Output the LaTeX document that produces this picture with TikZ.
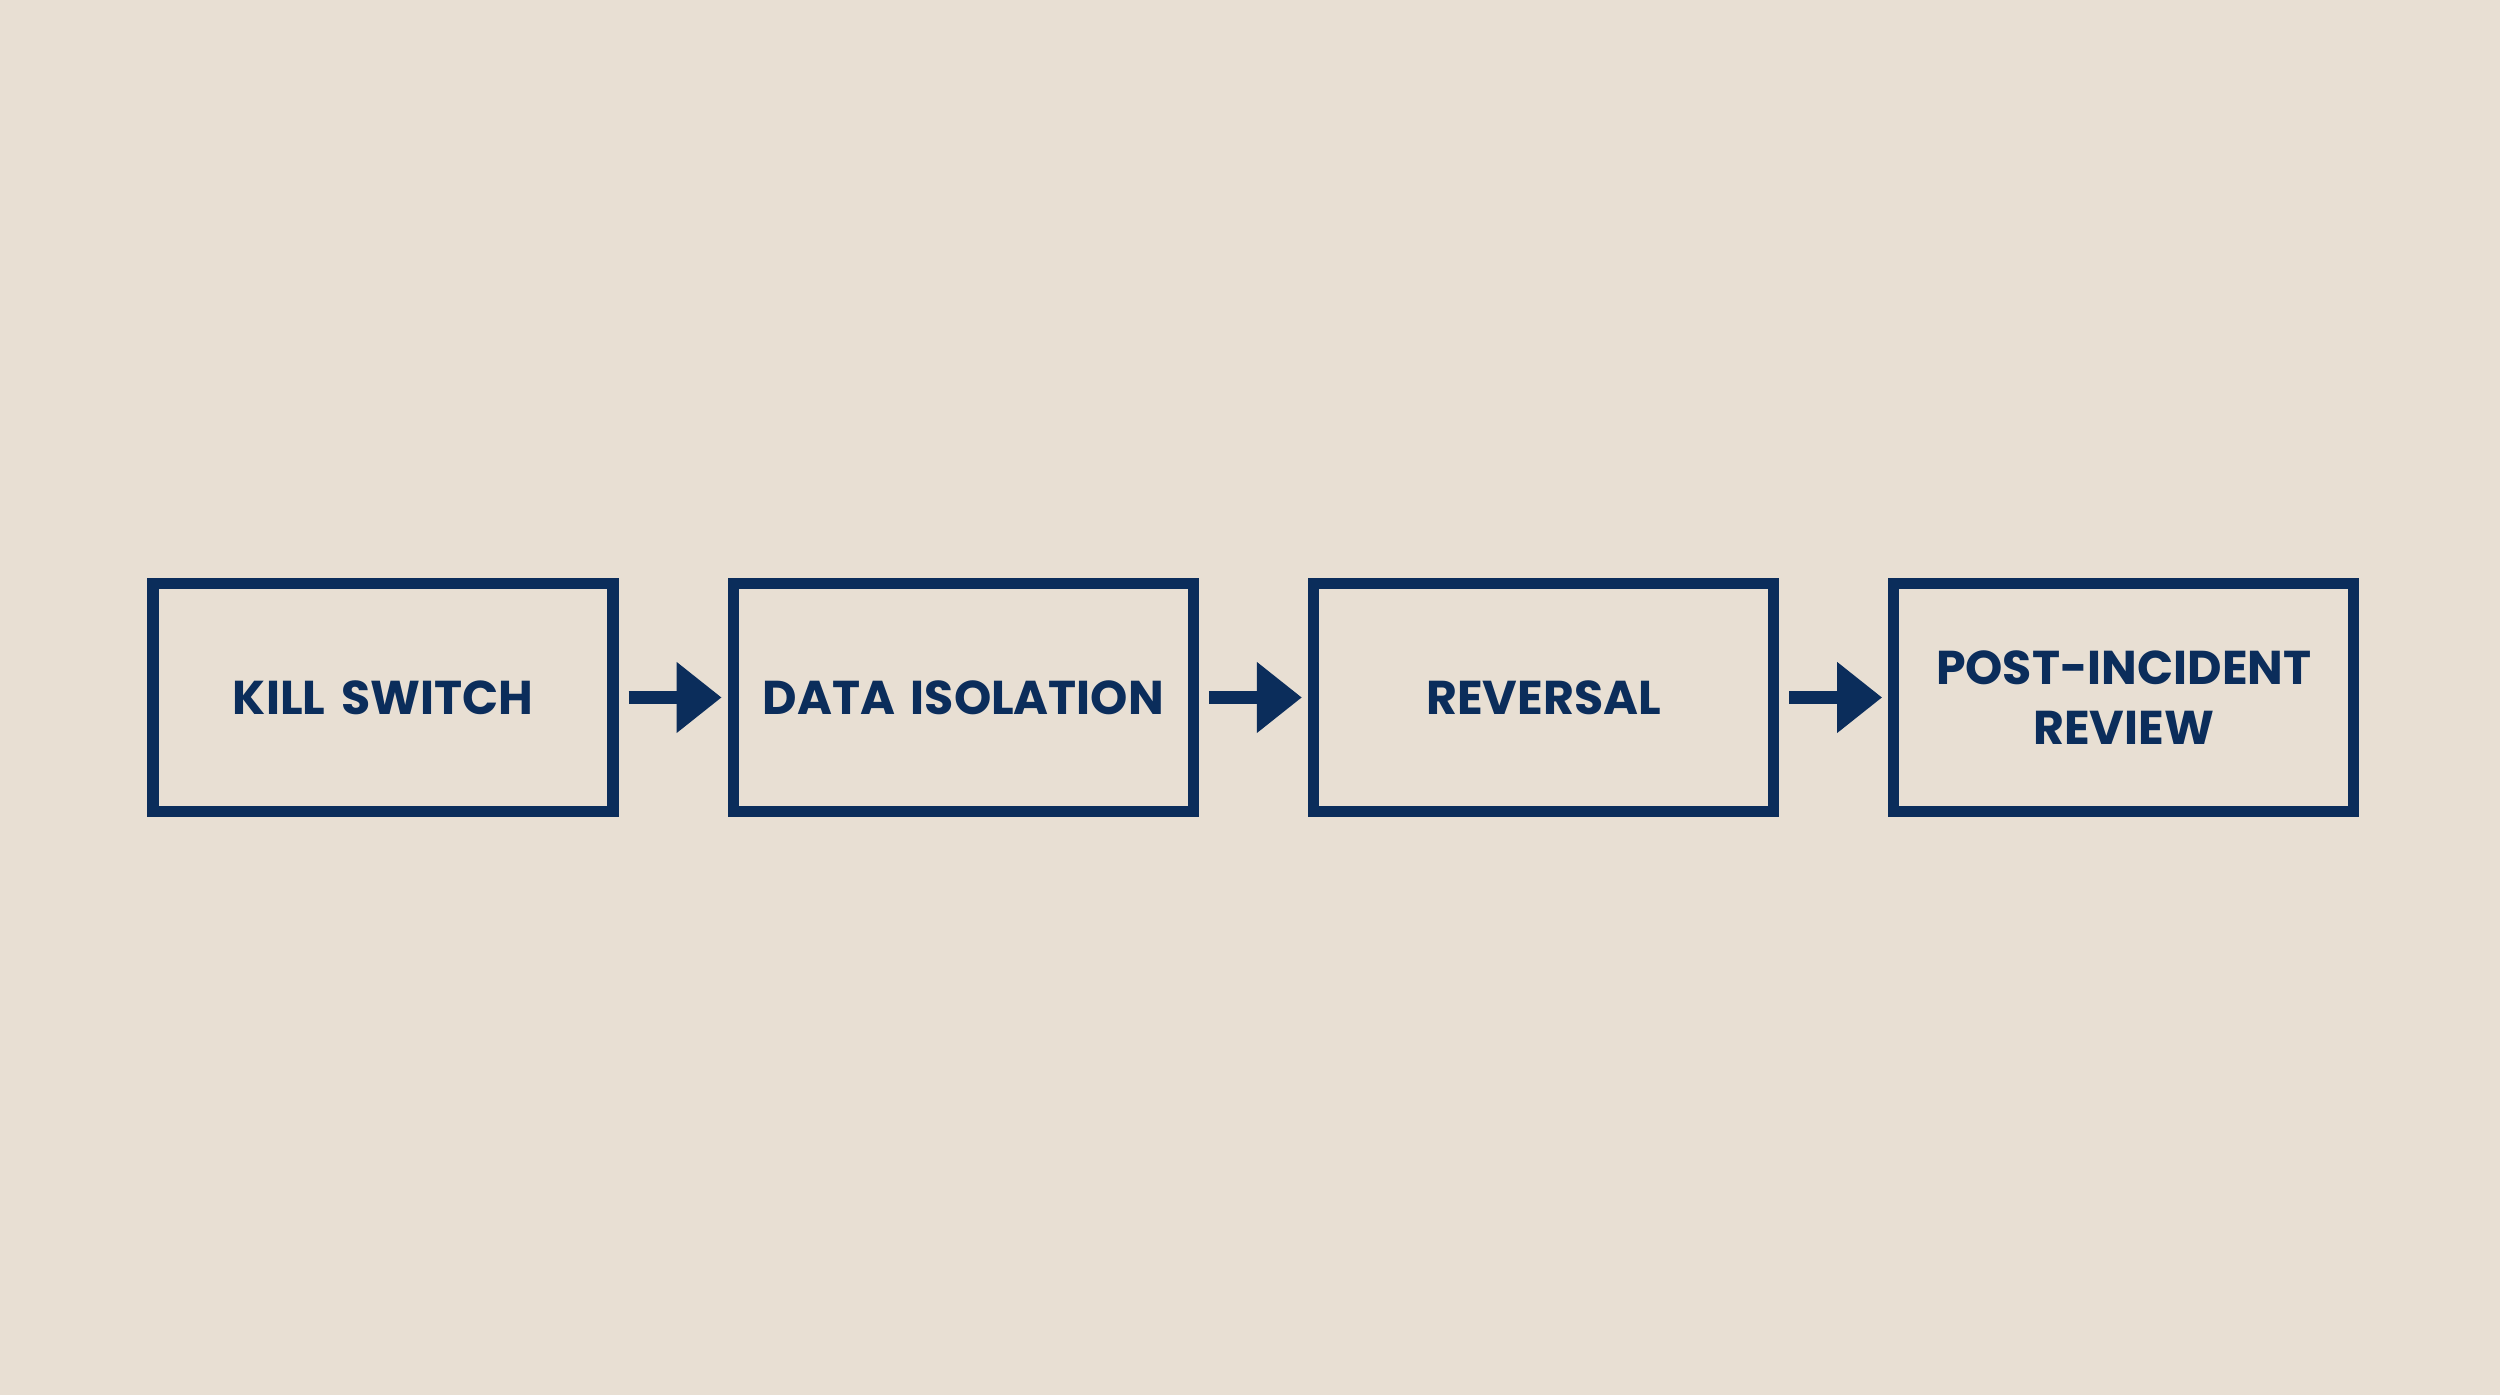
\documentclass[tikz,border=0pt]{standalone}
\usepackage{fontspec}
\setmainfont{Poppins}
\usetikzlibrary{positioning,arrows.meta}
\definecolor{paper}{HTML}{E8DFD3}
\definecolor{navy}{HTML}{0B2D5B}
\begin{document}
\begin{tikzpicture}[
    node distance=1.09cm,
    stage/.style={rectangle, draw=navy, line width=3.2pt, minimum width=4.6cm, minimum height=2.28cm, text width=4.2cm, align=center, text=navy, font=\fontsize{13.5}{17}\selectfont\bfseries},
    arrow/.style={-{Triangle[length=0.45cm,width=0.68cm]}, navy, line width=3.6pt, shorten <=0.1cm, shorten >=0.06cm}
]
\fill[paper] (0,0) rectangle (25,13.95);
\useasboundingbox (0,0) rectangle (25,13.95);

\node[stage] (kill) at (3.83,6.975) {KILL SWITCH};
\node[stage, right=of kill] (isolate) {DATA ISOLATION};
\node[stage, right=of isolate] (reverse) {REVERSAL};
\node[stage, right=of reverse] (review) {POST-INCIDENT\\REVIEW};

\draw[arrow] (kill) -- (isolate);
\draw[arrow] (isolate) -- (reverse);
\draw[arrow] (reverse) -- (review);

\end{tikzpicture}
\end{document}
